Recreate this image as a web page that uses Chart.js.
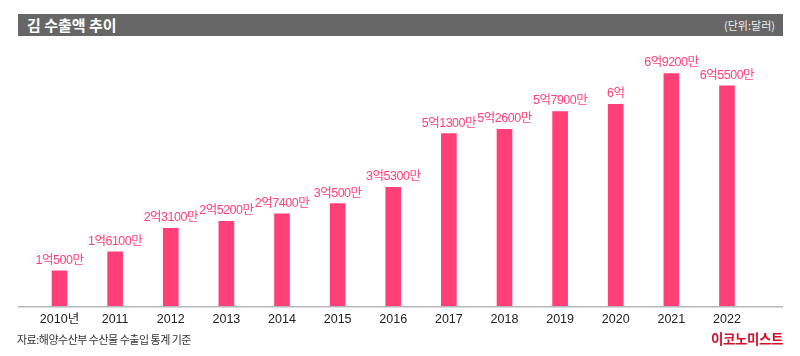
<!DOCTYPE html>
<html>
<head>
<meta charset="utf-8">
<script src="https://cdn.jsdelivr.net/npm/chart.js@4.4.1/dist/chart.umd.min.js"></script>
<style>
  html, body { margin: 0; padding: 0; background: #fff; }
  #wrap { position: relative; width: 800px; height: 356px; overflow: hidden; font-family: "Liberation Sans", "Noto Sans CJK KR", sans-serif; }
  #c { position: absolute; left: 0; top: 0; }
  #titlebar { position: absolute; left: 18px; top: 14px; width: 765px; height: 22px; background: #666666; }
  #title { position: absolute; left: 9px; top: 1px; line-height: 20px; font-size: 15px; font-weight: bold; color: #fff; font-family: "Noto Sans CJK KR", sans-serif; }
  #unit { position: absolute; right: 8px; top: 2px; line-height: 18px; font-size: 11px; color: #eee; font-family: "Noto Sans CJK KR", sans-serif; }
  #source { position: absolute; left: 17px; top: 331px; font-size: 11px; line-height: 16px; color: #333; font-family: "Noto Sans CJK KR", sans-serif; letter-spacing: -0.5px; }
  #logo { position: absolute; right: 17px; top: 328px; font-size: 13.5px; line-height: 20px; font-weight: bold; color: #d0112b; font-family: "Noto Sans CJK KR", sans-serif; letter-spacing: -0.4px; }
</style>
</head>
<body>
<div id="wrap">
  <canvas id="c" width="800" height="356"></canvas>
  <div id="titlebar"><span id="title">김 수출액 추이</span><span id="unit">(단위:달러)</span></div>
  <div id="source">자료:해양수산부 수산물 수출입 통계 기준</div>
  <div id="logo">이코노미스트</div>
</div>
<script>
const categories = ["2010년", "2011", "2012", "2013", "2014", "2015", "2016", "2017", "2018", "2019", "2020", "2021", "2022"];
// values in 만 달러 (10,000 USD)
const exportValues = [10500, 16100, 23100, 25200, 27400, 30500, 35300, 51300, 52600, 57900, 60000, 69200, 65500];
const valueLabels = ["1억500만", "1억6100만", "2억3100만", "2억5200만", "2억7400만", "3억500만", "3억5300만", "5억1300만", "5억2600만", "5억7900만", "6억", "6억9200만", "6억5500만"];

const BAR = "#ff3f78";
const FONT = '"Liberation Sans", "Noto Sans CJK KR", sans-serif';

const labelPlugin = {
  id: "valueLabels",
  afterDatasetsDraw(chart) {
    const ctx = chart.ctx;
    const meta = chart.getDatasetMeta(0);
    ctx.save();
    ctx.font = "12.5px " + FONT;
    ctx.fillStyle = "#ff3f78";
    ctx.textAlign = "center";
    ctx.textBaseline = "alphabetic";
    try { ctx.letterSpacing = "-0.5px"; } catch (e) {}
    meta.data.forEach((bar, i) => {
      ctx.fillText(valueLabels[i], bar.x, bar.y - 7);
    });
    ctx.restore();
  }
};

const baselinePlugin = {
  id: "baseline",
  afterDatasetsDraw(chart) {
    const ctx = chart.ctx;
    const y = chart.scales.y.getPixelForValue(0);
    const a = chart.chartArea;
    ctx.save();
    ctx.strokeStyle = "#b8b8b8";
    ctx.lineWidth = 1.5;
    ctx.beginPath();
    ctx.moveTo(a.left - 13.7, y + 0.75);
    ctx.lineTo(a.right + 28.2, y + 0.75);
    ctx.stroke();
    ctx.restore();
  }
};

new Chart(document.getElementById("c"), {
  type: "bar",
  data: {
    labels: categories,
    datasets: [{
      data: exportValues,
      backgroundColor: BAR,
      borderWidth: 0,
      barThickness: 15
    }]
  },
  options: {
    responsive: false,
    animation: false,
    events: [],
    layout: { padding: { left: 31.7, right: 45.2, top: 37.2, bottom: 0 } },
    plugins: { legend: { display: false }, tooltip: { enabled: false } },
    scales: {
      x: {
        grid: { display: false, drawTicks: false },
        border: { display: false },
        ticks: { color: "#222", font: { family: FONT, size: 12.5 }, padding: 6, maxRotation: 0, autoSkip: false },
        afterFit(s) { s.height = 50; }
      },
      y: {
        display: false,
        min: 0,
        max: 80000
      }
    }
  },
  plugins: [labelPlugin, baselinePlugin]
});
</script>
</body>
</html>
